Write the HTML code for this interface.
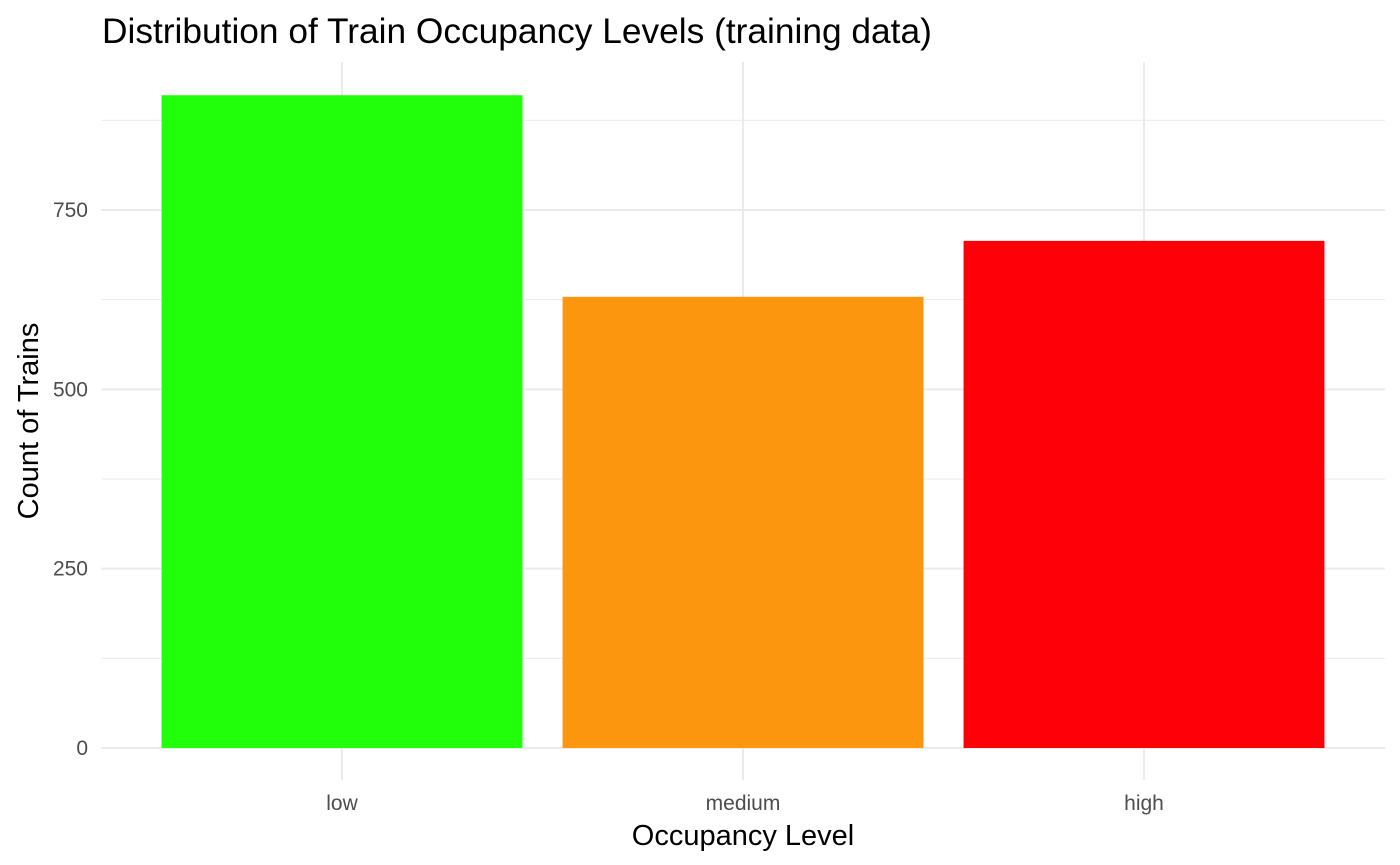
<!DOCTYPE html>
<html><head><meta charset="utf-8"><style>
body{margin:0;background:#fff;}
svg{display:block;font-family:"Liberation Sans",Arial,sans-serif;}
</style></head><body>
<svg id="chart" width="1400" height="865">
<text x="102" y="43" font-size="35.3" fill="#000">Distribution of Train Occupancy Levels (training data)</text>
<g id="grid"></g><g id="bars"></g><g id="axes"></g>
<text x="743" y="845" font-size="29" text-anchor="middle" fill="#000">Occupancy Level</text>
<text transform="translate(38,421) rotate(-90)" font-size="29" text-anchor="middle" fill="#000">Count of Trains</text>
</svg>
<script>
const categories = ["low","medium","high"];
const counts = [910, 629, 707];
const colors = ["#22ff0b","#fc960e","#fd0008"];
const yTicks = [0,250,500,750];
const yMinor = [125,375,625,875];
const NS="http://www.w3.org/2000/svg";
const x0=101.4, step=401, y0=748, ppu=538/750, panelTop=62;
const xC=i=>x0+step*(0.6+i);
const yS=v=>y0-v*ppu;
function mk(t,a,p){const e=document.createElementNS(NS,t);for(const k in a)e.setAttribute(k,a[k]);p.appendChild(e);return e;}
const g=document.getElementById('grid'),b=document.getElementById('bars'),ax=document.getElementById('axes');
yMinor.forEach(v=>{const l=mk('line',{x1:x0,x2:1385,y1:yS(v),y2:yS(v),stroke:'#ebebeb','stroke-width':1},g);

});
yTicks.forEach(v=>{const l=mk('line',{x1:x0,x2:1385,y1:yS(v),y2:yS(v),stroke:'#ebebeb','stroke-width':2},g);


const t=mk('text',{x:88,y:yS(v)+7,'font-size':21,'text-anchor':'end',fill:'#4d4d4d'},ax);t.textContent=v;

});
categories.forEach((c,i)=>{const l=mk('line',{x1:xC(i),x2:xC(i),y1:panelTop,y2:780,stroke:'#ebebeb','stroke-width':2},g);


const w=step*0.9;
const r=mk('rect',{x:xC(i)-w/2,y:yS(counts[i]),width:w,height:counts[i]*ppu,fill:colors[i]},b);


const t=mk('text',{x:xC(i),y:810,'font-size':21,'text-anchor':'middle',fill:'#4d4d4d'},ax);t.textContent=c;

});
</script>
</body></html>
